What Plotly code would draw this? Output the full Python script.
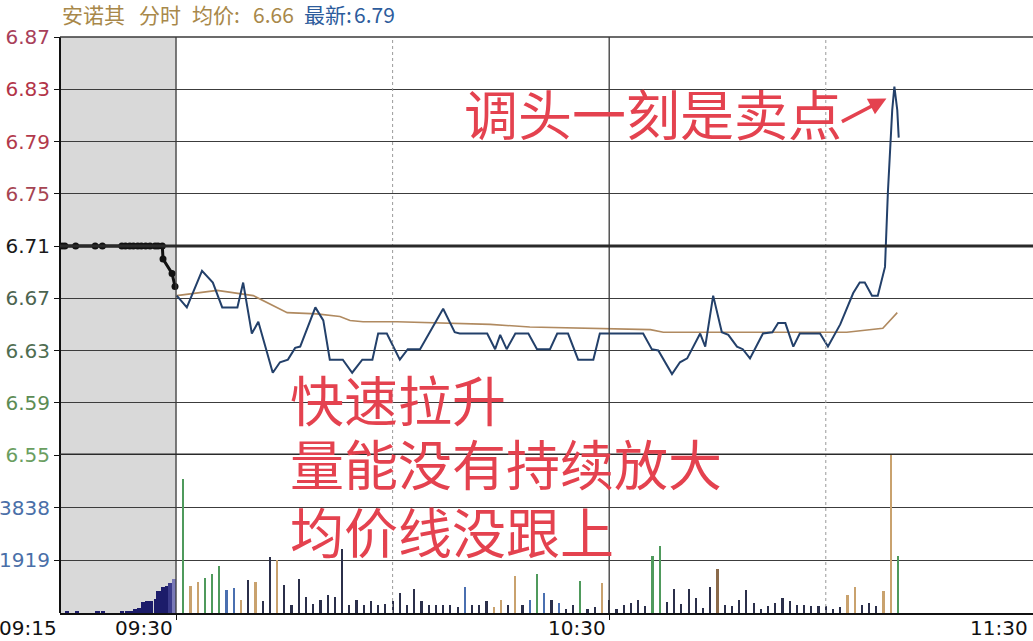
import plotly.graph_objects as go

# ---------------- data ----------------
# minutes relative to 09:30 (negative = call auction 09:15-09:30)
premarket_t = [-15.8, -15.4, -13.9, -11.2, -10.2, -7.5, -7.0, -6.4, -5.9, -5.3, -4.8, -4.2, -3.6,
               -2.9, -2.5, -1.9, -1.8, -0.55, -0.14]
premarket_p = [6.71, 6.71, 6.71, 6.71, 6.71, 6.71, 6.71, 6.71, 6.71, 6.71, 6.71, 6.71, 6.71,
               6.71, 6.71, 6.71, 6.700, 6.689, 6.679]

price_t = [0.1, 1.5, 3.6, 5.1, 6.4, 8.5, 9.3, 10.5, 11.4, 13.4,
           14.4, 15.5, 16.5, 17.2, 19.3, 20.4, 21.3, 23.1, 24.4, 25.8,
           27.2, 28.0, 29.2, 31.0, 32.1, 33.8, 37.0, 38.6, 39.3, 43.1,
           44.2, 44.9, 45.8, 47.0, 48.8, 50.0, 51.8, 52.8, 54.3, 55.7,
           57.8, 58.7, 64.7, 65.9, 66.8, 68.7, 69.8, 70.8, 72.6, 73.3,
           74.4, 75.6, 76.5, 77.7, 78.5, 79.5, 81.3, 82.6, 83.4, 84.4,
           85.5, 86.4, 89.2, 90.3, 92.0, 93.8, 94.7, 95.4, 96.4, 97.2,
           98.2, 98.6, 99.2, 99.5, 99.9, 100.1]
price_p = [6.672, 6.663, 6.691, 6.682, 6.663, 6.663, 6.682, 6.643, 6.652, 6.613,
           6.621, 6.623, 6.632, 6.633, 6.663, 6.653, 6.623, 6.623, 6.613, 6.623,
           6.623, 6.643, 6.643, 6.623, 6.631, 6.631, 6.662, 6.644, 6.643, 6.643,
           6.631, 6.642, 6.631, 6.643, 6.643, 6.631, 6.631, 6.643, 6.643, 6.623,
           6.623, 6.643, 6.643, 6.631, 6.630, 6.612, 6.621, 6.624, 6.643, 6.633,
           6.672, 6.644, 6.642, 6.633, 6.631, 6.624, 6.643, 6.644, 6.651, 6.651,
           6.633, 6.643, 6.643, 6.633, 6.650, 6.674, 6.682, 6.682, 6.672, 6.672,
           6.694, 6.751, 6.814, 6.832, 6.814, 6.793]

avg_t = [0.1, 5.7, 10.7, 15.4, 19.5, 22.7, 24.1, 25.9, 30.6, 43.5, 49.0, 59.1, 65.7, 67.5,
         72.6, 92.9, 97.9, 99.9]
avg_p = [6.672, 6.676, 6.672, 6.659, 6.658, 6.656, 6.653, 6.652, 6.652, 6.650, 6.648, 6.647,
         6.646, 6.644, 6.644, 6.644, 6.647, 6.659]

pm_vol_t = [-15.1, -13.7, -10.9, -10.1, -7.5, -6.8, -6.2, -5.7, -5.1, -4.6, -4.0, -3.5, -2.8,
            -2.4, -1.8, -1.2, -0.8, -0.3]
pm_vol = [60, 40, 50, 50, 40, 60, 80, 150, 200, 400, 420, 430, 500, 800, 950, 1000, 1100, 1250]

vol_t = list(range(1, 101))
vol = [4900, 985, 1144, 1292, 1414, 1722, 837, 923, 492, 1205,
       1144, 443, 2042, 1919, 1021, 283, 1230, 566, 344, 467,
       652, 566, 2337, 283, 492, 283, 443, 283, 320, 443,
       713, 283, 861, 443, 283, 283, 283, 283, 221, 935,
       283, 283, 443, 221, 492, 283, 1353, 283, 492, 1414,
       713, 492, 369, 160, 283, 1169, 160, 221, 1082, 467,
       148, 308, 369, 492, 246, 2066, 2435, 394, 886, 332,
       886, 541, 185, 959, 1599, 308, 246, 492, 837, 369,
       148, 246, 369, 541, 455, 308, 308, 246, 246, 246,
       148, 210, 652, 947, 308, 369, 246, 799, 5757, 2066]

price_ticks = [6.87, 6.83, 6.79, 6.75, 6.71, 6.67, 6.63, 6.59, 6.55]
price_tick_colors = ["#a8405a", "#b23448", "#b23a4c", "#a64452", "#1a1a1a",
                     "#4c6450", "#4f6e52", "#5c8c54", "#6a9e60"]
vol_ticks = [1919, 3838]

# ---------------- styles ----------------
tone = ("gttgggbbtd" "tddtdddddd" "dddddddddd" "dddddddddb" "dddttdtdbg"
        "bdbddgddtd" "dddddggddd" "ddddoddddd" "dddddddddd" "ddttdddttg")
tone_color = {"g": "#4f9a5c", "t": "#c9a26e", "b": "#4a6fb0", "d": "#2b2f4a", "o": "#8a6a4a"}
bar_colors = [tone_color[c] for c in tone]
pm_colors = ["#1c1c6a"] * (len(pm_vol) - 2) + ["#3b3b8a", "#7a7ab8"]

W, H = 1033, 641
ML, MR, MT, MB = 60, 0, 37, 28
PW, PH = W - ML - MR, H - MT - MB
VOL_FRAC = (613 - 455) / PH
X0, X1 = -16.07, 118.7
RED = "#e4424f"
CJK = "Noto Sans CJK SC"


def px(xp):  # window pixel -> paper x
    return (xp - ML) / PW


def py(yp):  # window pixel -> paper y
    return (H - MB - yp) / PH


fig = go.Figure()

fig.add_trace(go.Bar(x=pm_vol_t, y=pm_vol, width=0.62, marker=dict(color=pm_colors, line=dict(width=0)),
                     xaxis="x", yaxis="y2", showlegend=False))
fig.add_trace(go.Bar(x=vol_t, y=vol, width=0.3, marker=dict(color=bar_colors, line=dict(width=0)),
                     xaxis="x", yaxis="y2", showlegend=False))
fig.add_trace(go.Scatter(x=avg_t, y=avg_p, mode="lines", line=dict(color="#b08a60", width=1.6),
                         xaxis="x", yaxis="y", showlegend=False))
fig.add_trace(go.Scatter(x=price_t, y=price_p, mode="lines", line=dict(color="#23406a", width=2),
                         xaxis="x", yaxis="y", showlegend=False))
fig.add_trace(go.Scatter(x=premarket_t, y=premarket_p, mode="lines+markers",
                         line=dict(color="#111111", width=3), marker=dict(color="#111111", size=7),
                         xaxis="x", yaxis="y", showlegend=False))

shapes = [
    dict(type="rect", xref="x", yref="paper", x0=X0, x1=0, y0=0, y1=1,
         fillcolor="#d9d9d9", line=dict(width=0), layer="below"),
    dict(type="line", xref="x", yref="paper", x0=0, x1=0, y0=0, y1=1,
         line=dict(color="#3a3a3a", width=1.3)),
    dict(type="line", xref="x", yref="paper", x0=60, x1=60, y0=0, y1=1,
         line=dict(color="#3a3a3a", width=1.3)),
    dict(type="line", xref="x", yref="paper", x0=30, x1=30, y0=0, y1=1,
         line=dict(color="#9a9a9a", width=1, dash="dot")),
    dict(type="line", xref="x", yref="paper", x0=90, x1=90, y0=0, y1=1,
         line=dict(color="#9a9a9a", width=1, dash="dot")),
    dict(type="line", xref="paper", yref="paper", x0=0, x1=0, y0=0, y1=1,
         line=dict(color="#111111", width=2)),
    dict(type="line", xref="paper", yref="y", x0=0, x1=1, y0=6.71, y1=6.71,
         line=dict(color="#2a2a2a", width=3.2)),
    dict(type="line", xref="paper", yref="y", x0=0, x1=1, y0=6.55, y1=6.55,
         line=dict(color="#2a2a2a", width=3.2)),
    dict(type="line", xref="paper", yref="paper", x0=0, x1=1, y0=1, y1=1,
         line=dict(color="#3a3a3a", width=1.5)),
]

num_font = "DejaVu Sans"
ann = []
# header
hdr_y = py(14)
for txt, xp, col in [("安诺其", 60, "#a8884a"), ("分时", 137, "#a8884a"), ("均价:", 190, "#a8884a"),
                     ("6.66", 251, "#a8884a"), ("最新:", 302, "#2d5c9c"), ("6.79", 352, "#2d5c9c")]:
    ann.append(dict(text=txt, xref="paper", yref="paper", x=px(xp), y=hdr_y, xanchor="left",
                    yanchor="middle", showarrow=False,
                    font=dict(family=CJK, size=21, color=col)))
# x labels
for txt, xv, xr in [("09:15", X0, "x"), ("09:30", 0, "x"), ("10:30", 60, "x")]:
    ann.append(dict(text=txt, xref=xr, yref="paper", x=xv, y=0, xanchor="right", yanchor="top",
                    showarrow=False, xshift=-1, yshift=-1,
                    font=dict(family=num_font, size=20, color="#111111")))
ann.append(dict(text="11:30", xref="paper", yref="paper", x=1, y=0, xanchor="right", yanchor="top",
                showarrow=False, xshift=-3, yshift=-1,
                font=dict(family=num_font, size=20, color="#111111")))
# red commentary
for txt, xp, yp in [("调头一刻是卖点", 462, 112), ("快速拉升", 288, 398),
                    ("量能没有持续放大", 288, 463), ("均价线没跟上", 288, 530)]:
    ann.append(dict(text=txt, xref="paper", yref="paper", x=px(xp), y=py(yp), xanchor="left",
                    yanchor="middle", showarrow=False,
                    font=dict(family=CJK, size=54, color=RED)))
ann.append(dict(text="", x=98.4, y=6.823, xref="x", yref="y", ax=-46, ay=24, showarrow=True,
                arrowhead=2, arrowsize=1, arrowwidth=3.5, arrowcolor=RED))

fig.update_layout(
    width=W, height=H,
    margin=dict(l=ML, r=MR, t=MT, b=MB),
    paper_bgcolor="white", plot_bgcolor="white",
    bargap=0, barmode="overlay",
    xaxis=dict(range=[X0, X1], anchor="y2", showgrid=False, zeroline=False,
               showline=True, linecolor="#111111", linewidth=2,
               tickvals=[0, 60], ticks="outside", ticklen=5, tickcolor="#111111",
               showticklabels=False, fixedrange=True),
    yaxis=dict(domain=[VOL_FRAC, 1], range=[6.55, 6.87], tickvals=price_ticks,
               ticktext=[f'<span style="color:{c}">{v:.2f}</span>' for v, c in zip(price_ticks, price_tick_colors)],
               ticks="outside", ticklen=5, tickcolor="#111111", showgrid=True,
               gridcolor="#3c3c3c", gridwidth=1.2, zeroline=False, showline=False,
               tickfont=dict(family=num_font, size=20), automargin=False),
    yaxis2=dict(domain=[0, VOL_FRAC], range=[0, 5757], tickvals=vol_ticks,
                ticktext=[f'<span style="color:#4a6fa8">{v}</span>' for v in vol_ticks],
                ticks="outside", ticklen=5, tickcolor="#111111", showgrid=True,
                gridcolor="#3c3c3c", gridwidth=1.2, zeroline=False, showline=False,
                tickfont=dict(family=num_font, size=20), automargin=False),
    shapes=shapes,
    annotations=ann,
)

# remove the browser's default 8px body margin so the figure sits at the window origin
fig.write_html("out.html", config={"displayModeBar": False},
               post_script="document.body.style.margin='0';document.body.style.overflow='hidden';")
